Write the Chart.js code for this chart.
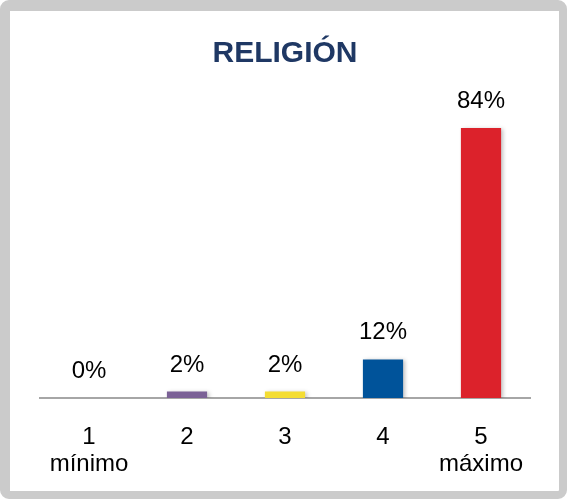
<!DOCTYPE html>
<html>
<head>
<meta charset="utf-8">
<script src="https://cdn.jsdelivr.net/npm/chart.js@4/dist/chart.umd.min.js"></script>
<style>
  html, body { margin: 0; padding: 0; background: #fff; }
  #wrap { position: relative; width: 567px; height: 499px; }
  #frame {
    position: absolute; left: 0; top: 0;
    width: 549px; height: 480px;
    border-style: solid; border-color: #cbcbcb;
    border-width: 11px 8px 8px 10px;
    border-radius: 9px;
    background: #fff;
  }
  #myChart { position: absolute; left: 0; top: 0; }
</style>
</head>
<body>
<div id="wrap">
  <div id="frame"></div>
  <canvas id="myChart" width="567" height="499"></canvas>
</div>
<script>
// niveles de la escala (1 = mínimo, 5 = máximo)
const categorias = [['1', 'mínimo'], '2', '3', '4', ['5', 'máximo']];
const porcentajes = [0, 2, 2, 12, 84];
const colores = ['#8a8a8a', '#7b6196', '#f4dd33', '#00539a', '#dc222b'];

// etiquetas de porcentaje encima de cada barra
const etiquetasValor = {
  id: 'etiquetasValor',
  afterDatasetsDraw(chart) {
    const ctx = chart.ctx;
    const meta = chart.getDatasetMeta(0);
    ctx.save();
    ctx.font = '24px "Liberation Sans", Arial, sans-serif';
    ctx.fillStyle = '#000';
    ctx.textAlign = 'center';
    ctx.textBaseline = 'alphabetic';
    meta.data.forEach((bar, i) => {
      ctx.fillText(porcentajes[i] + '%', bar.x, bar.y - 20);
    });
    ctx.restore();
  }
};

// sombra suave de las barras
const sombra = {
  id: 'sombra',
  beforeDatasetsDraw(chart) {
    const ctx = chart.ctx;
    ctx.save();
    ctx.shadowColor = 'rgba(0,0,0,0.25)';
    ctx.shadowBlur = 4;
    ctx.shadowOffsetX = 2;
    ctx.shadowOffsetY = 1;
  },
  afterDatasetsDraw(chart) {
    chart.ctx.restore();
  }
};

let ctx = document.getElementById('myChart').getContext('2d');
let myChart = new Chart(ctx, {
  type: 'bar',
  data: {
    labels: categorias,
    datasets: [{
      data: porcentajes,
      backgroundColor: colores,
      borderWidth: 0,
      barPercentage: 0.41,
      categoryPercentage: 1
    }]
  },
  options: {
    responsive: false,
    animation: false,
    layout: { padding: { top: 36, left: 40, right: 37, bottom: 3 } },
    plugins: {
      legend: { display: false },
      tooltip: { enabled: false },
      title: {
        display: true,
        text: 'RELIGIÓN',
        color: '#1f3864',
        font: { family: '"Liberation Sans", Arial, sans-serif', size: 30, weight: 'bold', lineHeight: 1.2 },
        padding: { top: 0, bottom: 36.7 }
      }
    },
    scales: {
      x: {
        grid: { display: false },
        border: { display: true, color: '#a6a6a6', width: 2 },
        ticks: {
          color: '#000',
          padding: 18,
          font: { family: '"Liberation Sans", Arial, sans-serif', size: 24, lineHeight: 1.125 }
        }
      },
      y: { display: false, min: 0, max: 90 }
    }
  },
  plugins: [sombra, etiquetasValor]
});
</script>
</body>
</html>
